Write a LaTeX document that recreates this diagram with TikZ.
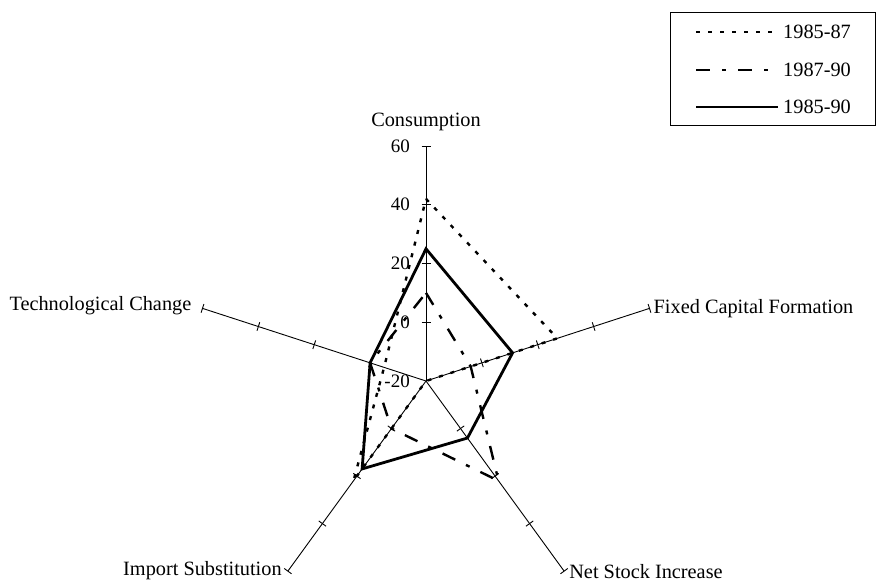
\documentclass[tikz,border=0pt]{standalone}
\usepackage{fontspec}
\setmainfont{Liberation Serif}
\usetikzlibrary{positioning}

% radius of a value on the -20..60 scale
\newcommand{\rad}[1]{(#1+20)*2.9375}

\begin{document}
\begin{tikzpicture}[
    x=1pt, y=1pt,
    axis/.style={line width=0.9pt},
    dotline/.style={line width=2.4pt, dash pattern=on 4pt off 8pt},
    dashdotline/.style={line width=2.4pt, dash pattern=on 14pt off 12pt on 4pt off 12pt},
    solidline/.style={line width=2.8pt, line join=miter},
    axislabel/.style={font=\fontsize{20.3}{24}\selectfont, inner sep=2pt},
    scalelabel/.style={font=\fontsize{19}{22}\selectfont, anchor=east, inner sep=0pt},
    legendtext/.style={font=\fontsize{20.3}{24}\selectfont, anchor=west, inner sep=2pt}
]
    \useasboundingbox (-426,-202) rectangle (451,381);

    % Axes and tick marks
    \coordinate (o) at (0,0);
    \foreach \ang/\name in {90/cons, 18/fcf, -54/nsi, 234/imp, 162/tech} {
        \coordinate (\name) at (\ang:235);
        \draw[axis] (o) -- (\name);
        \foreach \r in {58.75,117.5,176.25,235}
            \draw[axis] (\ang:\r) ++(\ang+90:4.5) -- ++(\ang-90:9);
    }

    % Scale on the consumption axis
    \foreach \v in {-20,0,20,40,60}
        \node[scalelabel] (s\v) at (-16,{\rad{\v}}) {\v};

    % Axis labels
    \node[axislabel, anchor=base] (consl) at ([yshift=19pt]cons) {Consumption};
    \node[axislabel, anchor=west] (fcfl) at ([xshift=2pt]fcf) {Fixed Capital Formation};
    \node[axislabel, anchor=north west] (nsil) at ([xshift=3pt,yshift=9pt]nsi) {Net Stock Increase};
    \node[axislabel, anchor=east] (impl) at ([xshift=-4pt,yshift=1pt]imp) {Import Substitution};
    \node[axislabel, anchor=east] (techl) at ([xshift=-9pt,yshift=3pt]tech) {Technological Change};

    % 1985-87
    \foreach \v/\ang [count=\i] in {42/90, 27/18, -20/-54, 22/234, -5/162}
        \coordinate (a\i) at (\ang:{\rad{\v}});
    \draw[dotline] (a1) -- (a2) -- (a3) -- (a4) -- (a5) -- cycle;

    % 1987-90
    \foreach \v/\ang [count=\i] in {10/90, -4/18, 22/-54, 0/234, 0/162}
        \coordinate (b\i) at (\ang:{\rad{\v}});
    \draw[dashdotline] (b1) -- (b2) -- (b3) -- (b4) -- (b5) -- cycle;

    % 1985-90
    \foreach \v/\ang [count=\i] in {25/90, 11/18, 4/-54, 17/234, 0/162}
        \coordinate (c\i) at (\ang:{\rad{\v}});
    \draw[solidline] (c1) -- (c2) -- (c3) -- (c4) -- (c5) -- cycle;

    % Legend
    \draw[line width=1pt] (244,255) rectangle (449,368);
    \node[legendtext] (l1) at (355,349) {1985-87};
    \node[legendtext] (l2) at (355,311) {1987-90};
    \node[legendtext] (l3) at (355,274) {1985-90};
    \draw[dotline, line width=2pt] ([xshift=-85pt]l1.west) -- ([xshift=-3pt]l1.west);
    \draw[dashdotline, line width=2pt] ([xshift=-85pt]l2.west) -- ([xshift=-3pt]l2.west);
    \draw[solidline, line width=2pt] ([xshift=-85pt]l3.west) -- ([xshift=-3pt]l3.west);
\end{tikzpicture}
\end{document}
